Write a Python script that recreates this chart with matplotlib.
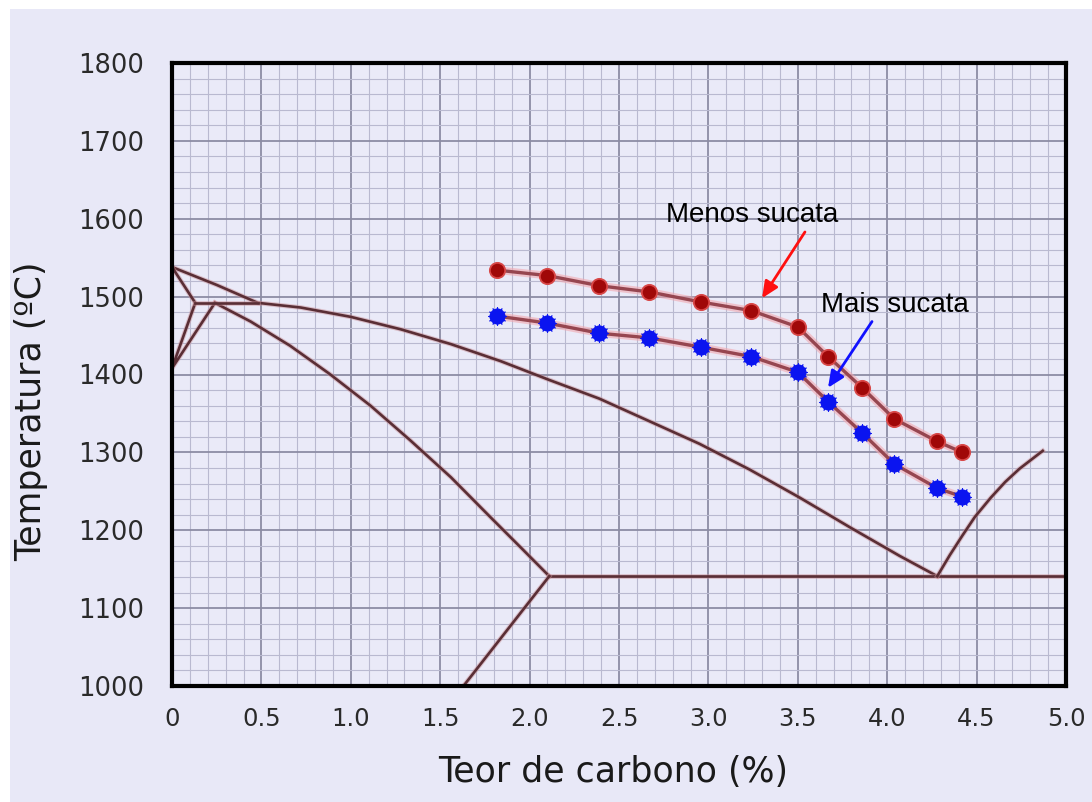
import matplotlib
matplotlib.use("Agg")
import matplotlib.pyplot as plt
import matplotlib.patheffects as pe
from matplotlib.ticker import MultipleLocator, FixedLocator, FixedFormatter

# Carbon content (%) of the measured melts
carbon = [1.82, 2.10, 2.39, 2.67, 2.96, 3.24, 3.50, 3.67, 3.86, 4.04, 4.28, 4.42]
# Temperatures (°C) for the two charge mixes
menos_sucata = [1534, 1527, 1514, 1506, 1493, 1482, 1461, 1423, 1383, 1343, 1314, 1300]
mais_sucata = [1475, 1466, 1453, 1447, 1435, 1423, 1403, 1365, 1325, 1285, 1254, 1243]

# Fe-C phase diagram boundaries (carbon %, temperature °C)
liquidus_x = [0.0, 0.25, 0.48, 0.72, 1.00, 1.28, 1.56, 1.84, 2.11, 2.39, 2.67,
              2.95, 3.23, 3.51, 3.79, 4.07, 4.28]
liquidus_y = [1538, 1515, 1492, 1486, 1474, 1458, 1439, 1417, 1393, 1369, 1340,
              1311, 1278, 1242, 1204, 1167, 1141]
solidus_x = [0.24, 0.44, 0.66, 0.88, 1.11, 1.33, 1.56, 1.78, 1.95, 2.11]
solidus_y = [1492, 1468, 1437, 1401, 1360, 1316, 1268, 1217, 1178, 1141]
delta_x = [0.0, 0.13, 0.0, 0.24]
delta_y = [1538, 1492, 1408, 1492]
peritectic_x = [0.13, 0.48]
peritectic_y = [1492, 1492]
eutectic_x = [2.11, 5.0]
eutectic_y = [1141, 1141]
acm_x = [2.11, 1.63]
acm_y = [1141, 1000]
cementite_x = [4.28, 4.35, 4.42, 4.49, 4.58, 4.66, 4.74, 4.87]
cementite_y = [1141, 1168, 1193, 1217, 1242, 1262, 1279, 1302]

x_ticks = [0, 0.5, 1.0, 1.5, 2.0, 2.5, 3.0, 3.5, 4.0, 4.5, 5.0]
x_tick_labels = ["0", "0.5", "1.0", "1.5", "2.0", "2.5", "3.0", "3.5", "4.0", "4.5", "5.0"]
y_ticks = [1000, 1100, 1200, 1300, 1400, 1500, 1600, 1700, 1800]

bg = "#E8E8F7"
phase_color = "#5A2E35"

fig = plt.figure(figsize=(10.92, 8.02), dpi=100, facecolor="white")
# lavender panel behind the chart
panel = plt.Rectangle((10 / 1092, 0), 1, 1 - 9 / 802, transform=fig.transFigure,
                      facecolor=bg, edgecolor="none", zorder=-10)
fig.patches.append(panel)

ax = fig.add_axes([172 / 1092, 1 - 686 / 802, (1066 - 172) / 1092, (686 - 63) / 802])
ax.set_zorder(1)
ax.set_facecolor("#EAEAF8")
ax.set_xlim(0, 5.0)
ax.set_ylim(1000, 1800)

# grid
ax.xaxis.set_major_locator(FixedLocator(x_ticks))
ax.xaxis.set_major_formatter(FixedFormatter(x_tick_labels))
ax.xaxis.set_minor_locator(MultipleLocator(0.1))
ax.yaxis.set_major_locator(FixedLocator(y_ticks))
ax.yaxis.set_minor_locator(MultipleLocator(20))
ax.grid(which="major", color="#8C8CA4", linewidth=1.3, zorder=0)
ax.grid(which="minor", color="#B9B9D0", linewidth=0.8, zorder=0)
ax.set_axisbelow(True)

ax.tick_params(which="both", length=0)
ax.tick_params(axis="y", pad=20, labelsize=18.5, labelcolor="#2A2A2A")
ax.tick_params(axis="x", pad=15, labelsize=17.5, labelcolor="#2A2A2A")

for s in ax.spines.values():
    s.set_linewidth(3.0)
    s.set_color("black")

# phase diagram
glow = [pe.Stroke(linewidth=3.4, foreground="#C89098", alpha=0.5), pe.Normal()]
for xs, ys in [(liquidus_x, liquidus_y), (solidus_x, solidus_y), (delta_x, delta_y),
               (peritectic_x, peritectic_y), (eutectic_x, eutectic_y),
               (acm_x, acm_y), (cementite_x, cementite_y)]:
    ax.plot(xs, ys, color=phase_color, linewidth=1.9, solid_joinstyle="round",
            path_effects=glow, zorder=2, clip_on=True)

# measured series
line_fx = [pe.Stroke(linewidth=5.5, foreground="#F2A8B0", alpha=0.6), pe.Normal()]
ax.plot(carbon, menos_sucata, color="#964650", linewidth=2.4, path_effects=line_fx, zorder=3)
ax.plot(carbon, mais_sucata, color="#964650", linewidth=2.4, path_effects=line_fx, zorder=3)
ax.plot(carbon, menos_sucata, linestyle="none", marker="o", markersize=11,
        markerfacecolor="#A00808", markeredgecolor="#D84848", markeredgewidth=1.3, zorder=4)
ax.plot(carbon, mais_sucata, linestyle="none", marker=(12, 1, 0), markersize=13.5,
        markerfacecolor="#0A14F0", markeredgecolor="#0A14F0", markeredgewidth=0.6, zorder=4)
ax.plot(carbon, mais_sucata, linestyle="none", marker="o", markersize=10.5,
        markerfacecolor="#0A14F0", markeredgecolor="#0A14F0", zorder=5)

# annotations
arrow_style = "-|>,head_length=1.0,head_width=0.45"
ax.text(3.244, 1596, "Menos sucata", ha="center", va="baseline", fontsize=20,
        family="Liberation Sans", color="black", zorder=6)
ax.annotate("", xy=(3.30, 1498), xytext=(3.54, 1583),
            arrowprops=dict(arrowstyle=arrow_style, color="#FF1010", linewidth=2.0,
                            shrinkA=0, shrinkB=0), zorder=6)
ax.text(4.044, 1480, "Mais sucata", ha="center", va="baseline", fontsize=20,
        family="Liberation Sans", color="black", zorder=6)
ax.annotate("", xy=(3.669, 1383), xytext=(3.915, 1468),
            arrowprops=dict(arrowstyle=arrow_style, color="#1010FF", linewidth=2.0,
                            shrinkA=0, shrinkB=0), zorder=6)

fig.text(31 / 1092, 1 - 411 / 802, "Temperatura (ºC)", rotation=90, ha="center",
         va="center", fontsize=25, color="#1A1A1A")
fig.text(613 / 1092, 1 - 772 / 802, "Teor de carbono (%)", ha="center", va="center",
         fontsize=25, color="#1A1A1A")

fig.savefig("out.png", dpi=100, facecolor=fig.get_facecolor())
